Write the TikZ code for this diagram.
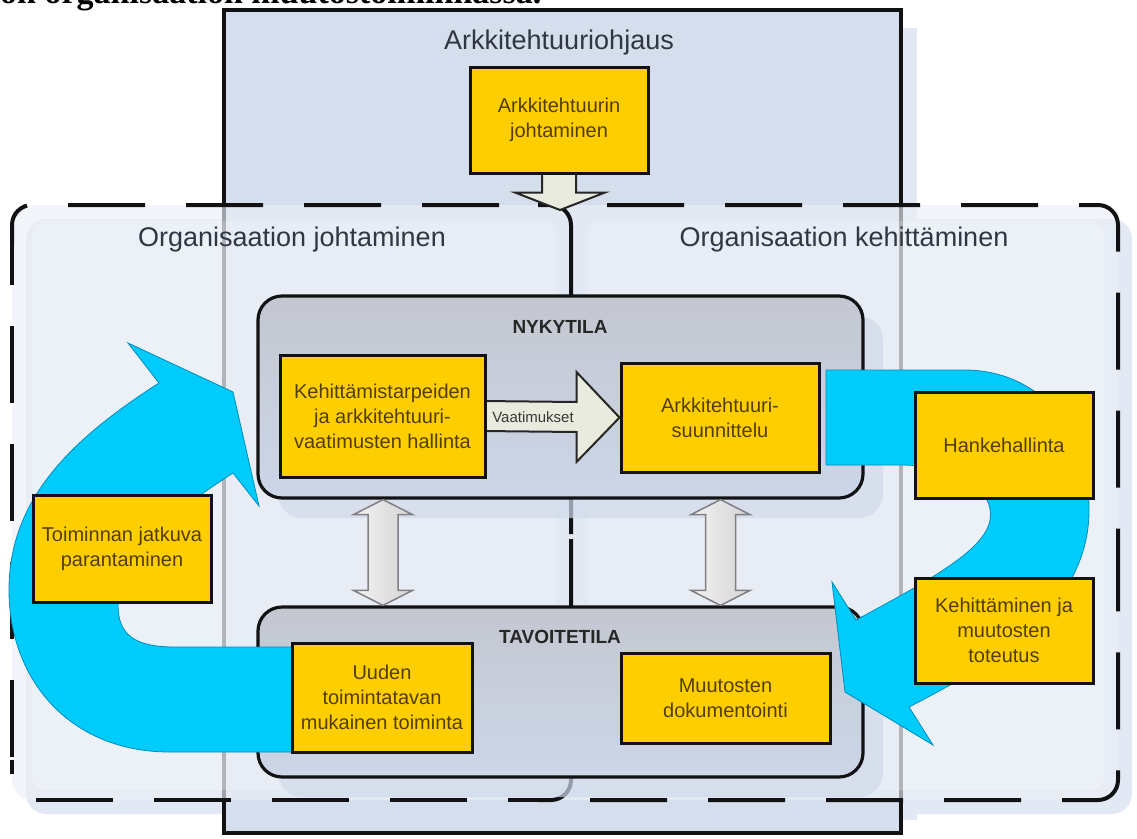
\documentclass[tikz,border=0pt]{standalone}
\usepackage{fontspec}
\setmainfont{Liberation Sans}
\newfontfamily\bodyserif{Liberation Serif}
\usetikzlibrary{calc}

\definecolor{boxblue}{RGB}{213,222,237}
\definecolor{paneltint}{RGB}{236,240,247}
\definecolor{panelshadow}{RGB}{226,233,244}
\definecolor{statetop}{RGB}{196,199,208}
\definecolor{statebot}{RGB}{204,214,232}
\definecolor{stateshadow}{RGB}{208,218,235}
\definecolor{procyellow}{RGB}{255,206,0}
\definecolor{proctext}{RGB}{82,62,0}
\definecolor{flowblue}{RGB}{0,204,252}
\definecolor{flowedge}{RGB}{0,140,190}
\definecolor{headtext}{RGB}{48,54,66}
\definecolor{arrowfill}{RGB}{233,235,222}
\definecolor{dbledge}{RGB}{128,128,132}
\definecolor{inkblack}{RGB}{18,18,20}

\pgfdeclarelayer{bg}
\pgfdeclarelayer{states}
\pgfdeclarelayer{flows}
\pgfsetlayers{bg,states,flows,main}

\tikzset{
  proc/.style={draw=inkblack, line width=3pt, fill=procyellow, text=proctext,
    align=center, inner sep=0pt, font=\fontsize{20}{25}\selectfont},
  statebox/.style={draw=inkblack, line width=3.2pt, rounded corners=24pt,
    top color=statetop, bottom color=statebot, inner sep=0pt},
  stateshade/.style={fill=stateshadow, opacity=0.7, rounded corners=24pt},
  heading/.style={text=headtext, font=\fontsize{27}{32}\selectfont, inner sep=0pt},
  statelabel/.style={text=black!85, font=\bfseries\fontsize{19}{23}\selectfont, inner sep=0pt},
  panedge/.style={draw=inkblack, line width=4pt, dash pattern=on 77pt off 41pt, rounded corners=20pt},
  midline/.style={draw=inkblack, line width=4pt, rounded corners=20pt},
  flow/.style={fill=flowblue, draw=flowedge, line width=0.8pt, line join=miter},
  blockarrow/.style={fill=arrowfill, draw=black!85, line width=2pt, line join=miter},
  dblarrow/.style={left color=black!5, right color=black!17, draw=dbledge,
    line width=1.5pt, line join=miter},
}

\begin{document}
\begin{tikzpicture}[x=1pt,y=-1pt]
\useasboundingbox (0,0) rectangle (1137,838);

% running text of the page, cut by the top edge
\node[anchor=base west, inner sep=0pt, font=\bodyserif\bfseries\fontsize{34}{40}\selectfont]
  (runtext) at (0,3) {on organisaation muutostoiminnassa.};

% ---------------- background: governance box and the two dashed panels
\begin{pgfonlayer}{bg}
  \fill[panelshadow] (238,28) rectangle (917,820);
  \fill[panelshadow, rounded corners=20pt] (26,219) rectangle (1132,814);
  \draw[draw=inkblack, line width=4.5pt, fill=boxblue] (224,10) rectangle (901,833);
  \fill[paneltint, opacity=0.65, rounded corners=20pt] (12,205) rectangle (1118,800);
  \fill[white, opacity=0.2, rounded corners=14pt] (32,221) rectangle (556,790);
  \fill[white, opacity=0.2, rounded corners=14pt] (588,221) rectangle (1104,790);
  % shared edge of the two panels
  \draw[midline] (538,205) -- (571,205) -- (571,534);
  \draw[midline] (571,539) -- (571,800) -- (538,800);
  % left panel outline
  \draw[panedge, dash phase=79pt] (538,205) -- (12,205) -- (12,245);
  \draw[panedge] (12,757) -- (12,240);
  \draw[panedge, dash phase=47pt] (538,800) -- (12,800) -- (12,760);
  % right panel outline
  \draw[panedge] (607,205) -- (1118,205) -- (1118,540);
  \draw[panedge] (590,800) -- (1118,800) -- (1118,540);
\end{pgfonlayer}

% ---------------- headings
\node[heading] (ohjaus) at (559,43) {Arkkitehtuuriohjaus};
\node[heading] (johtaminen) at (292,240) {Organisaation johtaminen};
\node[heading] (kehittaminen) at (844,240) {Organisaation kehittäminen};

% ---------------- current and target state
\begin{pgfonlayer}{states}
  \fill[stateshade] (278,316) rectangle (883,518);
  \fill[stateshade] (278,627) rectangle (883,797);
  \node[statebox, minimum width=605pt, minimum height=202pt] (nyk) at (560.5,397) {};
  \node[statebox, minimum width=605pt, minimum height=170pt] (tav) at (560.5,692) {};
\end{pgfonlayer}
\node[statelabel] (nyklabel) at (560,327) {NYKYTILA};
\node[statelabel] (tavlabel) at (560,637) {TAVOITETILA};

% ---------------- process boxes
\node[proc, minimum width=178pt, minimum height=106pt] (arj) at (559,120) {Arkkitehtuurin\\johtaminen};
\node[proc, minimum width=205pt, minimum height=122pt] (keh) at (382.5,416) {Kehittämistarpeiden\\ja arkkitehtuuri-\\vaatimusten hallinta};
\node[proc, minimum width=198pt, minimum height=109pt] (ark) at (720,417.5) {Arkkitehtuuri-\\suunnittelu};
\node[proc, minimum width=178pt, minimum height=106pt] (han) at (1004,445) {Hankehallinta};
\node[proc, minimum width=178pt, minimum height=105pt] (kmt) at (1004,630.5) {Kehittäminen ja\\muutosten\\toteutus};
\node[proc, minimum width=178pt, minimum height=107pt] (tjp) at (122,548.5) {Toiminnan jatkuva\\parantaminen};
\node[proc, minimum width=180pt, minimum height=109pt] (uud) at (382,697.5) {Uuden\\toimintatavan\\mukainen toiminta};
\node[proc, minimum width=209pt, minimum height=90pt] (mdo) at (725.5,698) {Muutosten\\dokumentointi};

% ---------------- connectors
\coordinate (steer) at (560,210);
\coordinate (dlT) at ([xshift=-177.5pt]nyk.south);
\coordinate (dlB) at ([xshift=-177.5pt]tav.north);
\coordinate (drT) at ([xshift=160pt]nyk.south);
\coordinate (drB) at ([xshift=160pt]tav.north);

\begin{pgfonlayer}{flows}
  % project cycle: design -> project management -> implementation -> target state
  \draw[flow] (826,370) -- (964,370)
    .. controls (1040,370) and (1089,430) .. (1089,510)
    .. controls (1089,610) and (990,665) .. (909,707)
    -- (933,745) -- (845,692) -- (832,582) -- (856,620)
    .. controls (930,580) and (985,550) .. (990,520)
    .. controls (995,490) and (960,465) .. (900,465)
    -- (826,465) -- cycle;
  % continuous improvement loop back to the requirement management
  \draw[flow] (300,752) -- (170,752)
    .. controls (70,752) and (9,680) .. (9,590)
    .. controls (9,500) and (70,440) .. (159,383)
    -- (128,343) -- (233,392) -- (259,506) -- (233,473)
    .. controls (160,520) and (118,560) .. (118,605)
    .. controls (118,635) and (135,647) .. (175,647)
    -- (300,647) -- cycle;
  % steering arrow from architecture management
  \draw[blockarrow] ($(arj.south)+(-17,-2)$) -- ($(arj.south)+(-17,18)$)
    -- ($(arj.south)+(-44,18)$) -- (steer) -- ($(arj.south)+(46,18)$)
    -- ($(arj.south)+(17,18)$) -- ($(arj.south)+(17,-2)$);
  % requirements arrow
  \draw[blockarrow] ($(keh.east)+(-4,-15)$) -- ($(ark.west)+(-43,-15.5)$)
    -- ($(ark.west)+(-43,-45.5)$) -- (ark.west) -- ($(ark.west)+(-43,44.5)$)
    -- ($(ark.west)+(-43,14.5)$) -- ($(keh.east)+(-4,15)$) -- cycle;
  % two-way links between current and target state
  \draw[dblarrow] (dlT) -- ($(dlT)+(29.5,15)$) -- ($(dlT)+(15,15)$)
    -- ($(dlB)+(15,-15)$) -- ($(dlB)+(29.5,-15)$) -- (dlB)
    -- ($(dlB)+(-29.5,-15)$) -- ($(dlB)+(-15,-15)$)
    -- ($(dlT)+(-15,15)$) -- ($(dlT)+(-29.5,15)$) -- cycle;
  \draw[dblarrow] (drT) -- ($(drT)+(29.5,15)$) -- ($(drT)+(15,15)$)
    -- ($(drB)+(15,-15)$) -- ($(drB)+(29.5,-15)$) -- (drB)
    -- ($(drB)+(-29.5,-15)$) -- ($(drB)+(-15,-15)$)
    -- ($(drT)+(-15,15)$) -- ($(drT)+(-29.5,15)$) -- cycle;
\end{pgfonlayer}

\node[text=black!78, font=\fontsize{15}{18}\selectfont, inner sep=0pt] (vaat) at (533,417) {Vaatimukset};

\end{tikzpicture}
\end{document}
